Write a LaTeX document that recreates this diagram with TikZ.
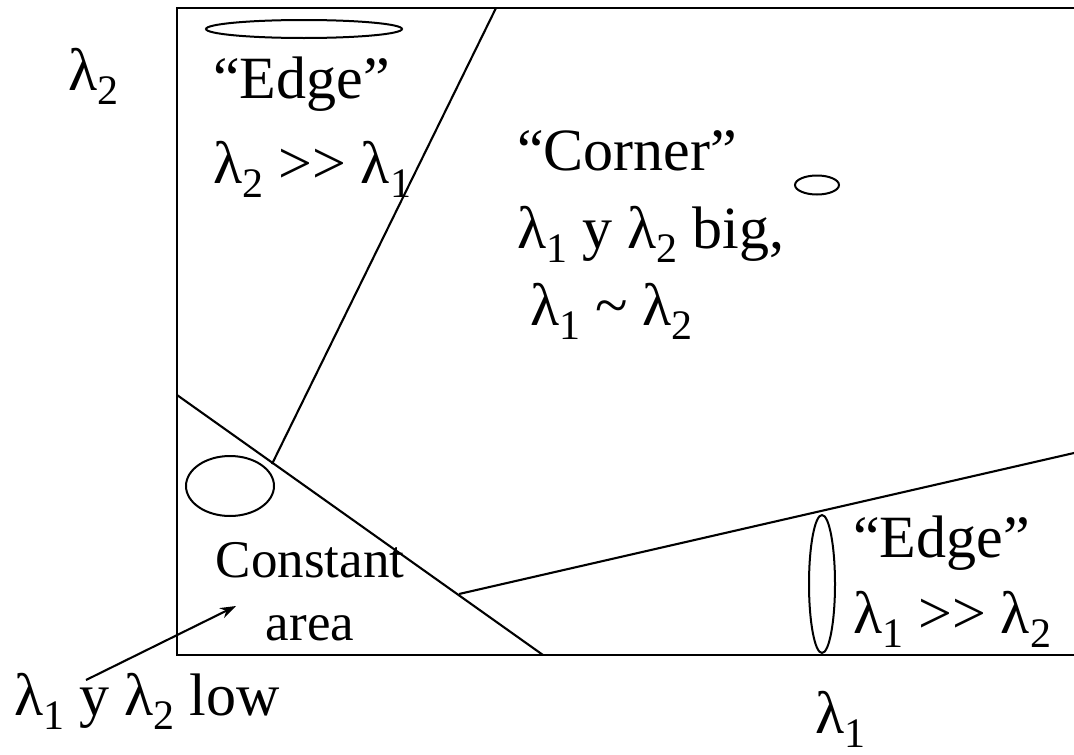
\documentclass[tikz,border=0pt]{standalone}
\usepackage{fontspec}
\setmainfont{Liberation Serif}
\usetikzlibrary{arrows.meta}
\newcommand\lsb[1]{λ\raisebox{-0.24em}{\fontsize{42}{42}\selectfont #1}}
\tikzset{
  ln/.style={line width=2.1pt, black},
  ell/.style={line width=2pt, black},
  lbl/.style={inner sep=0pt, anchor=base west, font=\fontsize{60}{66}\selectfont},
  smalllbl/.style={inner sep=0pt, anchor=base, font=\fontsize{53}{58}\selectfont},
}
\begin{document}
\begin{tikzpicture}[x=1pt,y=-1pt]
\useasboundingbox (0,0) rectangle (1074,755);
% frame
\coordinate (tr) at (1074,8);
\coordinate (tl) at (177,8);
\coordinate (bl) at (177,655);
\coordinate (br) at (1074,655);
\draw[ln] (tr) -- (tl) -- (bl) -- (br);
% region boundaries
\coordinate (a1) at (496,8);
\coordinate (a2) at (272,464);
\coordinate (b1) at (177,395);
\coordinate (b2) at (543,655);
\coordinate (c1) at (459,594);
\coordinate (c2) at (1074,453);
\draw[ln] (a1) -- (a2);
\draw[ln] (b1) -- (b2);
\draw[ln] (c1) -- (c2);
% ellipses
\draw[ell] (304,29) ellipse [x radius=98, y radius=9];
\draw[ell] (817,185) ellipse [x radius=22, y radius=9.5];
\draw[ell] (230,486) ellipse [x radius=44, y radius=30];
\draw[ell] (822,584) ellipse [x radius=13, y radius=69];
% labels
\node[lbl] (l2) at (68,90) {\lsb{2}};
\node[lbl] (edge1) at (213,98) {“Edge”};
\node[lbl] (rel1) at (213,183) {\lsb{2} >{}> \lsb{1}};
\node[lbl] (corner) at (517,170) {“Corner”};
\node[lbl] (big) at (517,248) {\lsb{1} y \lsb{2} big,};
\node[lbl] (sim) at (530,325) {\lsb{1} \char`\~{} \lsb{2}};
\node[lbl] (edge2) at (853,557) {“Edge”};
\node[lbl] (rel2) at (853,633) {\lsb{1} >{}> \lsb{2}};
\node[smalllbl] (const) at (310,577) {Constant};
\node[smalllbl] (area) at (310,640) {area};
\node[lbl] (low) at (14,715) {\lsb{1} y \lsb{2} low};
\node[lbl] (l1) at (815,733) {\lsb{1}};
% arrow
\coordinate (arrtail) at (86,680);
\coordinate (arrhead) at (236,606);
\draw[ln, -{Stealth[length=16pt,width=11pt]}] (arrtail) -- (arrhead);
\end{tikzpicture}
\end{document}
